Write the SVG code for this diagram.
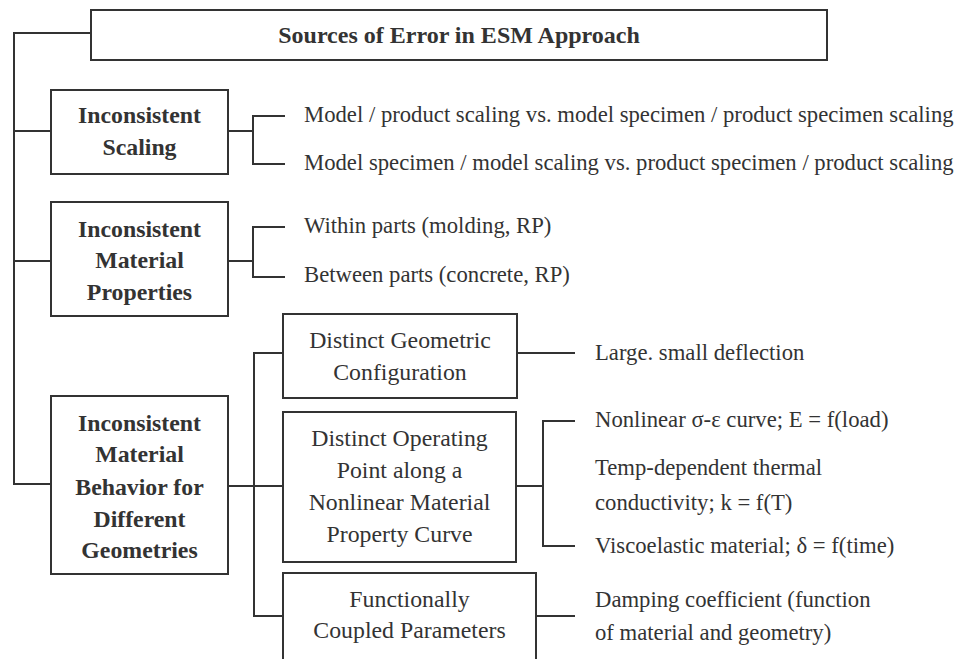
<svg xmlns="http://www.w3.org/2000/svg" width="956" height="659" viewBox="0 0 956 659">
<style>
  .box { fill: #ffffff; stroke: #333333; stroke-width: 2; }
  .conn { fill: none; stroke: #333333; stroke-width: 2; }
  text { font-family: "Liberation Serif", "Times New Roman", serif; fill: #333333; }
  .bold { font-weight: bold; font-size: 23.8px; text-anchor: middle; }
  .title { font-weight: bold; font-size: 24px; text-anchor: middle; }
  .boxt { font-size: 23.8px; text-anchor: middle; }
  .leaf { font-size: 22.7px; }
</style>
<rect width="956" height="659" fill="#ffffff"/>
<g id="connectors">
  <path class="conn" d="M91,33 H14 V484 H51 M14,131 H51 M14,261 H51"/>
  <path class="conn" d="M228,131 H253 M285,116 H253 V164 H285"/>
  <path class="conn" d="M228,261 H253 M285,227 H253 V277 H285"/>
  <path class="conn" d="M228,486 H283 M283,353 H254 V616 H283"/>
  <path class="conn" d="M517,353 H575"/>
  <path class="conn" d="M516,486 H543 M575,421 H543 V546 H575"/>
  <path class="conn" d="M536,616 H575"/>
</g>
<g id="title">
  <rect class="box" x="91" y="10" width="736" height="50"/>
  <text class="title" x="459" y="43">Sources of Error in ESM Approach</text>
</g>
<g id="scaling">
  <rect class="box" x="51" y="90" width="177" height="84"/>
  <text class="bold" x="139.5" y="123">Inconsistent</text>
  <text class="bold" x="139.5" y="155">Scaling</text>
</g>
<g id="scaling-leaves">
  <text class="leaf" x="304" y="122">Model / product scaling vs. model specimen / product specimen scaling</text>
  <text class="leaf" x="304" y="170">Model specimen / model scaling vs. product specimen / product scaling</text>
</g>
<g id="material">
  <rect class="box" x="51" y="202" width="177" height="114"/>
  <text class="bold" x="139.5" y="237">Inconsistent</text>
  <text class="bold" x="139.5" y="268">Material</text>
  <text class="bold" x="139.5" y="300">Properties</text>
</g>
<g id="material-leaves">
  <text class="leaf" x="304" y="233">Within parts (molding, RP)</text>
  <text class="leaf" x="304" y="282">Between parts (concrete, RP)</text>
</g>
<g id="behavior">
  <rect class="box" x="51" y="396" width="177" height="178"/>
  <text class="bold" x="139.5" y="431">Inconsistent</text>
  <text class="bold" x="139.5" y="462">Material</text>
  <text class="bold" x="139.5" y="495">Behavior for</text>
  <text class="bold" x="139.5" y="527">Different</text>
  <text class="bold" x="139.5" y="558">Geometries</text>
</g>
<g id="geometric">
  <rect class="box" x="283" y="314" width="234" height="84"/>
  <text class="boxt" x="400" y="348">Distinct Geometric</text>
  <text class="boxt" x="400" y="380">Configuration</text>
</g>
<g id="geometric-leaf">
  <text class="leaf" x="595" y="360">Large. small deflection</text>
</g>
<g id="operating">
  <rect class="box" x="283" y="412" width="233" height="150"/>
  <text class="boxt" x="399.5" y="446">Distinct Operating</text>
  <text class="boxt" x="399.5" y="478">Point along a</text>
  <text class="boxt" x="399.5" y="510">Nonlinear Material</text>
  <text class="boxt" x="399.5" y="542">Property Curve</text>
</g>
<g id="operating-leaves">
  <text class="leaf" x="595" y="427">Nonlinear σ-ε curve; E = f(load)</text>
  <text class="leaf" x="595" y="475">Temp-dependent thermal</text>
  <text class="leaf" x="595" y="510">conductivity; k = f(T)</text>
  <text class="leaf" x="595" y="553">Viscoelastic material; δ = f(time)</text>
</g>
<g id="functional">
  <rect class="box" x="283" y="573" width="253" height="100"/>
  <text class="boxt" x="409.5" y="607">Functionally</text>
  <text class="boxt" x="409.5" y="638">Coupled Parameters</text>
</g>
<g id="functional-leaf">
  <text class="leaf" x="595" y="607">Damping coefficient (function</text>
  <text class="leaf" x="595" y="640">of material and geometry)</text>
</g>
</svg>
